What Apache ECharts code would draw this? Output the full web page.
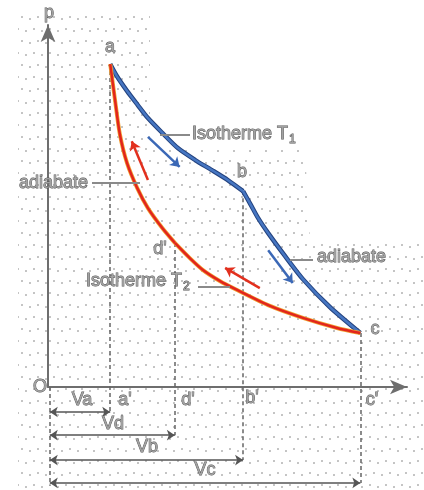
<!DOCTYPE html>
<html>
<head>
<meta charset="utf-8">
<script src="https://cdn.jsdelivr.net/npm/echarts/dist/echarts.min.js"></script>
<style>
  html, body { margin: 0; padding: 0; background: #fff; }
  #main { width: 424px; height: 490px; }
</style>
</head>
<body>
<div id="main"></div>
<script>
// Carnot cycle in the p-V plane (arbitrary units)
const isothermT1 = [[1.04, 8.92], [1.15, 8.59], [1.32, 8.18], [1.50, 7.79], [1.67, 7.43], [1.91, 7.02], [2.17, 6.60], [2.46, 6.27], [2.74, 5.99], [3.01, 5.71], [3.26, 5.41]];
const adiabatBC = [[3.26, 5.41], [3.38, 5.06], [3.51, 4.67], [3.68, 4.25], [3.96, 3.62], [4.26, 2.98], [4.71, 2.21], [5.22, 1.49]];
const isothermT2 = [[2.12, 3.98], [2.37, 3.56], [2.59, 3.23], [2.87, 2.93], [3.16, 2.68], [3.71, 2.24], [4.26, 1.91], [4.83, 1.63], [5.22, 1.49]];
const adiabatDA = [[1.04, 8.92], [1.12, 7.93], [1.20, 6.99], [1.32, 6.19], [1.49, 5.50], [1.67, 4.94], [1.91, 4.39], [2.12, 3.98]];

// direction of travel along the cycle
const flowBlue = [[[1.67, 6.91], [2.20, 6.08]], [[3.68, 3.78], [4.09, 2.87]]];
const flowRed = [[[1.67, 5.72], [1.40, 6.79]], [[3.54, 2.73], [2.96, 3.29]]];

const volumeNames = ["Va", "Vd", "Vb", "Vc"];
const cornerPoints = [isothermT1[0], isothermT2[0], isothermT1[isothermT1.length - 1], isothermT2[isothermT2.length - 1]];

const chart = echarts.init(document.getElementById("main"));

// dotted paper background
const dots = document.createElement("canvas");
dots.width = 16;
dots.height = 24;
const g = dots.getContext("2d");
g.fillStyle = "#acacac";
[[2, 5], [10, 7], [6, 17], [14, 19]].forEach(function (d) {
  g.beginPath(); g.arc(d[0], d[1], 0.95, 0, Math.PI * 2); g.fill();
});

const FONT = "18px 'Liberation Sans', Arial, sans-serif";
const textStyle = { fill: "#a2a2a2", stroke: "#555", lineWidth: 0.9, font: FONT };

function label(text, x, y, align) {
  return {
    type: "text", z: 50,
    style: Object.assign({ text, x, y, align: align || "center", verticalAlign: "middle",
      textAlign: align || "center", textVerticalAlign: "middle" }, textStyle)
  };
}
function subLabel(main, sub, x, y) {
  return {
    type: "text", z: 50,
    style: Object.assign({
      text: "{m|" + main + "}{s|" + sub + "}", x, y, align: "left", verticalAlign: "middle",
      textAlign: "left", textVerticalAlign: "middle",
      rich: {
        m: Object.assign({}, textStyle),
        s: Object.assign({}, textStyle, { font: "12px 'Liberation Sans', Arial, sans-serif", padding: [11, 0, 0, 1] })
      }
    }, textStyle)
  };
}
function leader(x1, y1, x2, y2) {
  return { type: "line", z: 40, shape: { x1, y1, x2, y2 }, style: { stroke: "#8a8a8a", lineWidth: 2 } };
}

function curve(data, color, width, z) {
  return { type: "line", data, smooth: 0.25, symbol: "none", silent: true, clip: false, z,
    lineStyle: { color, width } };
}

const levels = [-0.69, -1.33, -2.02, -2.65];

const option = {
  animation: false,
  grid: { left: 48, right: 17, top: 25, bottom: 103 },
  xAxis: {
    type: "value", min: 0, max: 6,
    axisLine: { show: true, onZero: false, symbol: ["none", "arrow"], symbolSize: [11, 17],
      lineStyle: { color: "#6e6e6e", width: 2 } },
    axisTick: { show: false }, axisLabel: { show: false }, splitLine: { show: false }
  },
  yAxis: {
    type: "value", min: 0, max: 10,
    axisLine: { show: true, onZero: false, symbol: ["none", "arrow"], symbolSize: [11, 17],
      lineStyle: { color: "#6e6e6e", width: 2 } },
    axisTick: { show: false }, axisLabel: { show: false }, splitLine: { show: false }
  },
  series: [
    // projections onto the V axis
    {
      type: "lines", coordinateSystem: "cartesian2d", clip: false, silent: true, z: 3,
      data: cornerPoints.map((p, i) => ({ coords: [p, [p[0], levels[i]]] }))
        .concat([{ coords: [[0.03, 0], [0.03, -2.72]] }]),
      symbol: "none",
      lineStyle: { color: "#666", width: 1.5, type: [4, 3], opacity: 1 }
    },
    // volume dimension arrows
    {
      type: "lines", coordinateSystem: "cartesian2d", clip: false, silent: true, z: 3,
      data: cornerPoints.map((p, i) => ({ coords: [[0.03, levels[i]], [p[0], levels[i]]] })),
      symbol: ["arrow", "arrow"], symbolSize: 8,
      lineStyle: { color: "#555", width: 1.5, opacity: 1 }
    },
    curve(isothermT1, "#23427e", 4.5, 5),
    curve(adiabatBC, "#23427e", 4.5, 5),
    curve(isothermT1, "#4676c2", 2.5, 6),
    curve(adiabatBC, "#4676c2", 2.5, 6),
    curve(isothermT2, "#f0a030", 4, 7),
    curve(adiabatDA, "#f0a030", 4, 7),
    curve(isothermT2, "#e2251d", 2.5, 8),
    curve(adiabatDA, "#e2251d", 2.5, 8),
    {
      type: "lines", coordinateSystem: "cartesian2d", clip: false, silent: true, z: 9,
      data: flowBlue.map(c => ({ coords: c })),
      symbol: ["none", "arrow"], symbolSize: 9,
      lineStyle: { color: "#3b68b6", width: 2.5, opacity: 1 }
    },
    {
      type: "lines", coordinateSystem: "cartesian2d", clip: false, silent: true, z: 9,
      data: flowRed.map(c => ({ coords: c })),
      symbol: ["none", "arrow"], symbolSize: 9,
      lineStyle: { color: "#e2301e", width: 2.5, opacity: 1 }
    }
  ],
  graphic: [
    {
      type: "polygon", z: -10, silent: true,
      shape: { points: [[18, 10], [150, 10], [150, 150], [305, 150], [310, 240], [424, 240], [424, 490], [18, 490]] },
      style: { fill: { image: dots, repeat: "repeat" } }
    },
    leader(160, 135, 190, 135),
    leader(92, 183, 140, 183),
    leader(290, 260, 313, 260),
    leader(198, 287, 230, 287),
    label("p", 49, 13),
    label("a", 110, 47),
    label("b", 242, 172),
    label("c", 375, 329),
    label("d'", 160, 249),
    label("O", 40, 387),
    subLabel("Isotherme T", "1", 192, 134),
    label("adiabate", 88, 183, "right"),
    label("adiabate", 317, 257, "left"),
    subLabel("Isotherme T", "2", 86, 281),
    label(volumeNames[0], 82, 400),
    label("a'", 125, 400),
    label("d'", 188, 400),
    label("b'", 252, 398),
    label("c'", 372, 400),
    label(volumeNames[1], 113, 424),
    label(volumeNames[2], 147, 447),
    label(volumeNames[3], 205, 470)
  ]
};

chart.setOption(option);
</script>
</body>
</html>
